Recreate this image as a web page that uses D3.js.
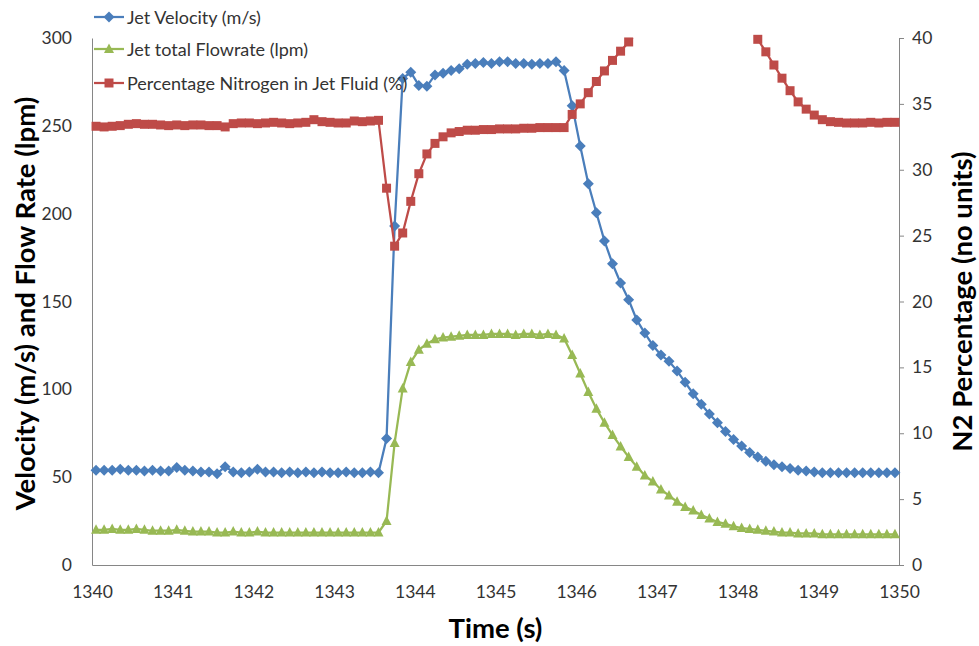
<!DOCTYPE html>
<html>
<head>
<meta charset="utf-8">
<script src="https://cdn.jsdelivr.net/npm/d3@7"></script>
<style>
  body { margin: 0; background: #fff; }
  text { font-family: Lato, "Open Sans", sans-serif; fill: #333; }
</style>
</head>
<body>
<div id="chart"></div>
<script>
// sample times (s)
var times = [
  1340.05,1340.15,1340.25,1340.35,1340.45,1340.55,1340.65,1340.75,1340.85,1340.95,
  1341.05,1341.15,1341.25,1341.35,1341.45,1341.55,1341.65,1341.75,1341.85,1341.95,
  1342.05,1342.15,1342.25,1342.35,1342.45,1342.55,1342.65,1342.75,1342.85,1342.95,
  1343.05,1343.15,1343.25,1343.35,1343.45,1343.55,1343.65,1343.75,1343.85,1343.95,
  1344.05,1344.15,1344.25,1344.35,1344.45,1344.55,1344.65,1344.75,1344.85,1344.95,
  1345.05,1345.15,1345.25,1345.35,1345.45,1345.55,1345.65,1345.75,1345.85,1345.95,
  1346.05,1346.15,1346.25,1346.35,1346.45,1346.55,1346.65,1346.75,1346.85,1346.95,
  1347.05,1347.15,1347.25,1347.35,1347.45,1347.55,1347.65,1347.75,1347.85,1347.95,
  1348.05,1348.15,1348.25,1348.35,1348.45,1348.55,1348.65,1348.75,1348.85,1348.95,
  1349.05,1349.15,1349.25,1349.35,1349.45,1349.55,1349.65,1349.75,1349.85,1349.95
];

// Jet Velocity (m/s) - left axis
var velocity = [
  54,54,54,54.5,54,54,53.5,54,53.5,53.5,
  55.5,54,53.5,53,53,52,56,53,52.5,53,
  54.5,53,53,52.5,53,52.5,53,52.5,53,52.5,
  52.5,53,52.5,52.5,53,52.5,72,193,277,280.5,
  273,272.5,279,280,281.5,282.5,285,285.5,286,285.5,
  286.5,286.5,285.5,285.5,285,285.5,285.5,286.5,281.5,261.5,
  238.5,217,200.5,184.5,171.5,160.5,151,139.5,132,125,
  119.5,116,110.5,104,97.5,91.5,86,81,76,71.5,
  67.7,64,61.5,59,57,56,55,54,53.5,53,
  52.5,52.5,52.5,52.5,52.5,52.5,52.5,52.5,52.5,52.5
];

// Jet total Flowrate (lpm) - left axis
var flowrate = [
  20,20,20.5,20,20,20.5,20,19.5,19.5,19.5,
  20,19.5,19,19,19,18.5,18.5,19,18.5,18.5,
  19,18.5,18.5,18.5,18.5,18.5,18.5,18.5,18.5,18.5,
  18.5,18.5,18.5,18.5,18.5,18.5,25,69.5,100.5,115.5,
  122.5,126,128.5,129.5,130,130.5,131,131,131,131.5,
  131.5,131.5,131,131.5,131.5,131,131.5,131,129,119.5,
  109,98.5,89,81,74,67.5,61.5,56,51,47.5,
  43,39.5,36,33,31,28.5,26.5,24.5,23.5,22,
  21,20.5,20,19.5,19,18.5,18.5,18,18,18,
  17.5,17.5,17.5,17.5,17.5,17.5,17.5,17.5,17.5,17.5
];

// Percentage Nitrogen in Jet Fluid (%) - right axis
var nitrogen = [
  33.3,33.25,33.3,33.35,33.45,33.5,33.45,33.45,33.4,33.35,
  33.4,33.35,33.4,33.4,33.35,33.35,33.25,33.5,33.55,33.55,
  33.5,33.55,33.6,33.55,33.5,33.55,33.6,33.8,33.65,33.6,
  33.55,33.55,33.7,33.65,33.7,33.75,28.6,24.2,25.2,27.6,
  29.7,31.2,32,32.5,32.8,32.9,33,33,33.05,33.05,
  33.1,33.1,33.1,33.15,33.15,33.2,33.2,33.2,33.2,34.2,
  35,35.85,36.7,37.5,38.3,39,39.7,40.4,41.1,41.7,
  42.2,42.6,42.9,43.1,43.2,43.2,43.1,42.9,42.6,42.2,
  41.7,41.1,39.9,38.95,37.95,36.95,36,35.15,34.6,34.15,
  33.8,33.65,33.6,33.55,33.55,33.55,33.6,33.55,33.6,33.6
];

var timeTicks = [1340,1341,1342,1343,1344,1345,1346,1347,1348,1349,1350];
var leftTicks = [0,50,100,150,200,250,300];
var rightTicks = [0,5,10,15,20,25,30,35,40];
var seriesNames = ["Jet Velocity (m/s)", "Jet total Flowrate (lpm)", "Percentage Nitrogen in Jet Fluid (%)"];

var margin = {top: 38, right: 80, bottom: 81, left: 92};
var width = 979 - margin.left - margin.right;
var height = 646 - margin.top - margin.bottom;

var svg = d3.select("#chart")
  .append("svg")
    .attr("width", 979)
    .attr("height", 646)
  .append("g")
    .attr("transform", "translate(" + margin.left + "," + margin.top + ")");

var x = d3.scaleLinear().domain([1340, 1350]).range([0, width]);
var yLeft = d3.scaleLinear().domain([0, 300]).range([height, 0]);
var yRight = d3.scaleLinear().domain([0, 40]).range([height, 0]);

// marker shapes
var diamond = "M0,-5.5L5.5,0L0,5.5L-5.5,0Z";
var triangle = "M0,-5.5L5,4L-5,4Z";
var square = "M-4.5,-4.5H4.5V4.5H-4.5Z";

var series = [
  {name: seriesNames[0], values: velocity, y: yLeft, color: "#4A7EBB", marker: diamond},
  {name: seriesNames[1], values: flowrate, y: yLeft, color: "#98B954", marker: triangle},
  {name: seriesNames[2], values: nitrogen, y: yRight, color: "#BE4B48", marker: square}
];

svg.append("clipPath").attr("id", "plot-clip")
  .append("rect").attr("width", width).attr("height", height);

// axes
var axisColor = "#868686";

var xAxis = svg.append("g")
  .attr("transform", "translate(0," + height + ")")
  .call(d3.axisBottom(x).tickValues(timeTicks).tickFormat(d3.format("d")).tickSize(0).tickPadding(21));

var leftAxis = svg.append("g")
  .call(d3.axisLeft(yLeft).tickValues(leftTicks).tickSize(0).tickPadding(20));

var rightAxis = svg.append("g")
  .attr("transform", "translate(" + width + ",0)")
  .call(d3.axisRight(yRight).tickValues(rightTicks).tickSizeOuter(0).tickSize(5).tickPadding(8));

[xAxis, leftAxis, rightAxis].forEach(function(a) {
  a.select(".domain").attr("stroke", axisColor);
  a.selectAll(".tick line").attr("stroke", axisColor);
  a.selectAll("text")
    .style("font-family", "Lato, 'Open Sans', sans-serif")
    .style("font-size", "17.5px")
    .attr("fill", "#333");
});

// lines and markers
series.forEach(function(s) {
  var line = d3.line()
    .x(function(d, i) { return x(times[i]); })
    .y(function(d) { return s.y(d); });

  svg.append("path")
    .datum(s.values)
    .attr("clip-path", "url(#plot-clip)")
    .attr("fill", "none")
    .attr("stroke", s.color)
    .attr("stroke-width", 2.25)
    .attr("d", line);

  svg.append("g")
    .selectAll("path")
    .data(d3.range(0, s.values.length).filter(function(i) { return s.values[i] <= s.y.domain()[1]; }))
    .enter()
    .append("path")
      .attr("d", s.marker)
      .attr("transform", function(i) { return "translate(" + x(times[i]) + "," + s.y(s.values[i]) + ")"; })
      .attr("fill", s.color);
});

// axis titles
svg.append("text")
  .attr("transform", "translate(" + (-57) + "," + (height / 2 + 2) + ") rotate(-90)")
  .attr("text-anchor", "middle")
  .style("font-size", "27.5px")
  .style("font-weight", "bold")
  .style("fill", "#000")
  .text("Velocity (m/s) and Flow Rate (lpm)");

svg.append("text")
  .attr("transform", "translate(" + (width + 73) + "," + (height / 2) + ") rotate(-90)")
  .attr("text-anchor", "middle")
  .style("font-size", "27.5px")
  .style("font-weight", "bold")
  .style("fill", "#000")
  .text("N2 Percentage (no units)");

svg.append("text")
  .attr("x", width / 2)
  .attr("y", height + 73)
  .attr("text-anchor", "middle")
  .style("font-size", "27.5px")
  .style("font-weight", "bold")
  .style("fill", "#000")
  .text("Time (s)");

// legend
var legend = svg.append("g")
  .attr("transform", "translate(0,-38)");

var legendRows = [17, 49, 83];

series.forEach(function(s, i) {
  var row = legend.append("g")
    .attr("transform", "translate(0," + legendRows[i] + ")");
  row.append("line")
    .attr("x1", 2).attr("x2", 32)
    .attr("stroke", s.color)
    .attr("stroke-width", 2.25);
  row.append("path")
    .attr("d", s.marker)
    .attr("transform", "translate(17,0)")
    .attr("fill", s.color);
  row.append("text")
    .attr("x", 35)
    .attr("y", 6.5)
    .style("font-size", "18px")
    .text(s.name);
});
</script>
</body>
</html>
